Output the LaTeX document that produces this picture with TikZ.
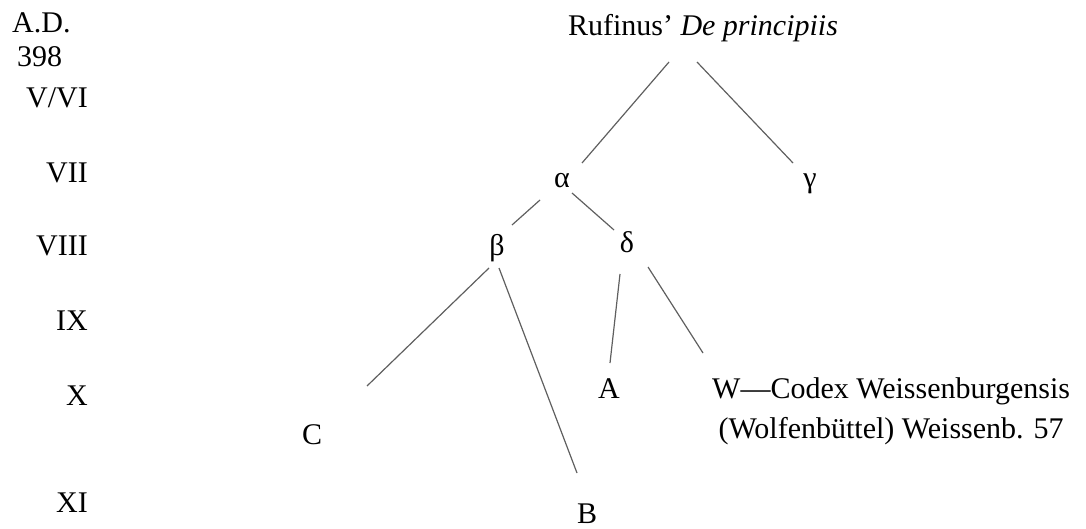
\documentclass[tikz,border=0pt]{standalone}
\usepackage{fontspec}
\setmainfont{Liberation Serif}
\usepackage{tikz}
\usetikzlibrary{positioning, calc}
\definecolor{cLine}{RGB}{95,95,95}
\tikzset{
	ms/.style      ={inner sep=0pt, anchor=base, font=\fontsize{30}{40}\selectfont},
	century/.style ={ms, anchor=base east},
	branch/.style  ={draw=cLine, line width=1.2pt},
}

\begin{document}
\begin{tikzpicture}[x=1pt, y=-1pt]
	\useasboundingbox (0,0) rectangle (1086,529);
	% time scale on the left
	\node[ms, anchor=base west] (ad) at (12,33) {A.D.};
	\node[ms, anchor=base west] (yr) at (17,67) {398};
	\node[century] (vvi) at (88,108) {V/VI};
	\foreach \c/\y [count=\i] in {VII/183, VIII/255, IX/330, X/405, XI/512}
		\node[century] (cent\i) at (88,\y) {\c};
	% stemma
	\node[ms] (ruf)   at (703,36)  {Rufinus’ \textit{De principiis}};
	\node[ms] (alpha) at (562,188) {α};
	\node[ms] (gamma) at (810,188) {γ};
	\node[ms] (beta)  at (497,255) {β};
	\node[ms] (delta) at (627,253) {δ};
	\node[ms] (msA)   at (609,398) {A};
	\node[ms] (msC)   at (312,444) {C};
	\node[ms] (msB)   at (587,523) {B};
	\node[ms, anchor=north west, align=center] (msW) at (712,377)
		{W—Codex Weissenburgensis\\(Wolfenbüttel) Weissenb. 57};
	\draw[branch] ([shift={(-34,26)}]ruf.base) -- ([shift={(20,-25)}]alpha.base);
	\draw[branch] ([shift={(-6,26)}]ruf.base) -- ([shift={(-17,-25)}]gamma.base);
	\draw[branch] ([shift={(-22,12)}]alpha.base) -- ([shift={(15,-30)}]beta.base);
	\draw[branch] ([shift={(10,5)}]alpha.base) -- ([shift={(-13,-23)}]delta.base);
	\draw[branch] ([shift={(-8,13)}]beta.base) -- ([shift={(55,-58)}]msC.base);
	\draw[branch] ([shift={(2,13)}]beta.base) -- ([shift={(-10,-50)}]msB.base);
	\draw[branch] ([shift={(-7,21)}]delta.base) -- ([shift={(1,-35)}]msA.base);
	\draw[branch] ([shift={(21,14)}]delta.base) -- ([shift={(-9,-24)}]msW.north west);
\end{tikzpicture}
\end{document}
